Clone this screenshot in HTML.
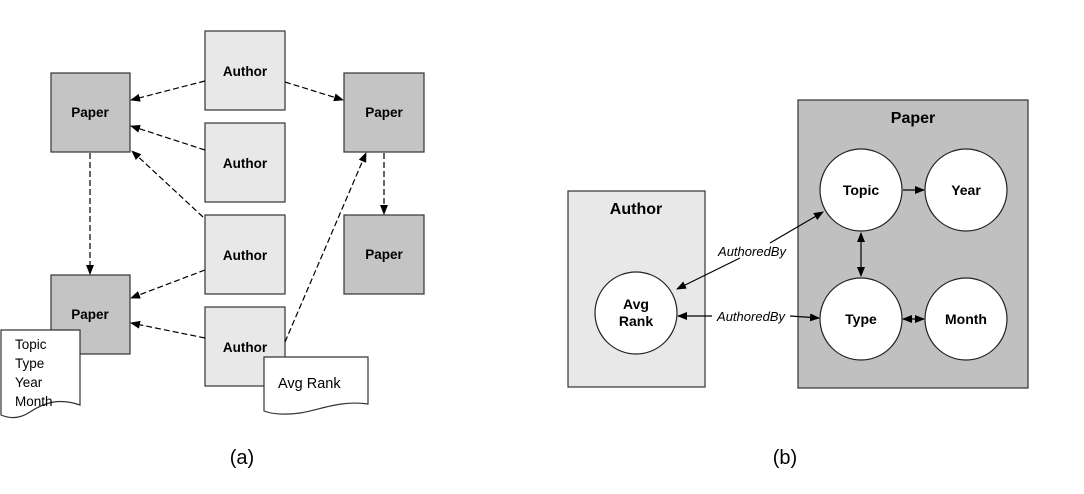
<!DOCTYPE html>
<html><head><style>body{margin:0;background:#fff}svg{display:block}</style></head><body>
<svg width="1084" height="494" viewBox="0 0 1084 494" xmlns="http://www.w3.org/2000/svg" font-family="Liberation Sans, sans-serif">
<defs>
<marker id="a" markerWidth="10" markerHeight="8" refX="9" refY="4" orient="auto" markerUnits="userSpaceOnUse"><path d="M0,0L10,4L0,8z" fill="#000"/></marker>
<marker id="s" markerWidth="10" markerHeight="8" refX="1" refY="4" orient="auto" markerUnits="userSpaceOnUse"><path d="M10,0L0,4L10,8z" fill="#000"/></marker>
</defs>
<g stroke="#333" stroke-width="1.2">
<rect x="51" y="73" width="79" height="79" fill="#c4c4c4"/>
<rect x="344" y="73" width="80" height="79" fill="#c4c4c4"/>
<rect x="344" y="215" width="80" height="79" fill="#c4c4c4"/>
<rect x="51" y="275" width="79" height="79" fill="#c4c4c4"/>
<rect x="205" y="31" width="80" height="79" fill="#e8e8e8"/>
<rect x="205" y="123" width="80" height="79" fill="#e8e8e8"/>
<rect x="205" y="215" width="80" height="79" fill="#e8e8e8"/>
<rect x="205" y="307" width="80" height="79" fill="#e8e8e8"/>
</g>
<g stroke="#000" stroke-width="1.2" stroke-dasharray="6,3" fill="none" marker-end="url(#a)">
<line x1="205" y1="81" x2="131" y2="100"/>
<line x1="285" y1="82" x2="343" y2="100"/>
<line x1="205" y1="150" x2="131" y2="126"/>
<line x1="203" y1="217" x2="132" y2="151"/>
<line x1="90" y1="153" x2="90" y2="274"/>
<line x1="205" y1="270" x2="131" y2="298"/>
<line x1="205" y1="338" x2="131" y2="323"/>
<line x1="285" y1="342" x2="366" y2="153"/>
<line x1="384" y1="153" x2="384" y2="214"/>
</g>
<g font-weight="bold" font-size="13.5" text-anchor="middle">
<text x="90" y="117">Paper</text><text x="384" y="117">Paper</text><text x="384" y="259">Paper</text><text x="90" y="319">Paper</text>
<text x="245" y="76">Author</text><text x="245" y="168">Author</text><text x="245" y="260">Author</text><text x="245" y="352">Author</text>
</g>
<path d="M1,330H80V405C60,398 45,402 30,412C18,420 8,418 1,415Z" fill="#fff" stroke="#333" stroke-width="1.2"/>
<g font-size="13.5"><text x="15" y="349">Topic</text><text x="15" y="368">Type</text><text x="15" y="387">Year</text><text x="15" y="406">Month</text></g>
<path d="M264,357H368V404C340,400 320,410 300,413C285,415 272,414 264,411Z" fill="#fff" stroke="#333" stroke-width="1.2"/>
<text x="278" y="388" font-size="14.5">Avg Rank</text>
<text x="242" y="464" font-size="20" text-anchor="middle">(a)</text>

<rect x="568" y="191" width="137" height="196" fill="#e8e8e8" stroke="#333" stroke-width="1.2"/>
<rect x="798" y="100" width="230" height="288" fill="#c0c0c0" stroke="#333" stroke-width="1.2"/>
<g font-weight="bold" text-anchor="middle">
<text x="913" y="123" font-size="16">Paper</text>
<text x="636" y="214" font-size="16">Author</text>
</g>
<g fill="#fff" stroke="#222" stroke-width="1.2">
<circle cx="861" cy="190" r="41"/><circle cx="966" cy="190" r="41"/>
<circle cx="861" cy="319" r="41"/><circle cx="966" cy="319" r="41"/>
<circle cx="636" cy="313" r="41"/>
</g>
<g font-weight="bold" font-size="14" text-anchor="middle">
<text x="861" y="195">Topic</text><text x="966" y="195">Year</text>
<text x="861" y="324">Type</text><text x="966" y="324">Month</text>
<text x="636" y="309">Avg</text><text x="636" y="326">Rank</text>
</g>
<g stroke="#000" stroke-width="1.2" fill="none">
<line x1="903" y1="190" x2="924" y2="190" marker-end="url(#a)"/>
<line x1="861" y1="233" x2="861" y2="276" marker-end="url(#a)" marker-start="url(#s)"/>
<line x1="903" y1="319" x2="924" y2="319" marker-end="url(#a)" marker-start="url(#s)"/>
<line x1="770" y1="243" x2="823" y2="212" marker-end="url(#a)"/>
<line x1="740" y1="258" x2="677" y2="289" marker-end="url(#a)"/>
<line x1="678" y1="316" x2="712" y2="316" marker-start="url(#s)"/>
<line x1="790" y1="316" x2="819" y2="318" marker-end="url(#a)"/>
</g>
<g font-style="italic" font-size="13" text-anchor="middle">
<text x="752" y="256">AuthoredBy</text>
<text x="751" y="321">AuthoredBy</text>
</g>
<text x="785" y="464" font-size="20" text-anchor="middle">(b)</text>
</svg>
</body></html>
